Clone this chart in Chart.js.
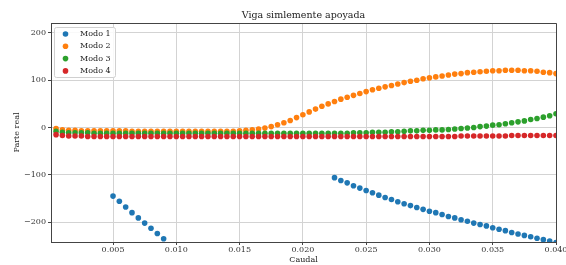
<!DOCTYPE html>
<html>
<head>
<meta charset="utf-8">
<script src="https://cdn.jsdelivr.net/npm/chart.js@4"></script>
<style>
  body { margin: 0; background: #fff; }
</style>
</head>
<body>
<canvas id="chart" width="566" height="265"></canvas>
<script>
// Data
const caudal = [
  0.0005, 0.001, 0.0015, 0.002, 0.0025, 0.003, 0.0035, 0.004, 0.0045, 0.005,
  0.0055, 0.006, 0.0065, 0.007, 0.0075, 0.008, 0.0085, 0.009, 0.0095, 0.010,
  0.0105, 0.011, 0.0115, 0.012, 0.0125, 0.013, 0.0135, 0.014, 0.0145, 0.015,
  0.0155, 0.016, 0.0165, 0.017, 0.0175, 0.018, 0.0185, 0.019, 0.0195, 0.020,
  0.0205, 0.021, 0.0215, 0.022, 0.0225, 0.023, 0.0235, 0.024, 0.0245, 0.025,
  0.0255, 0.026, 0.0265, 0.027, 0.0275, 0.028, 0.0285, 0.029, 0.0295, 0.030,
  0.0305, 0.031, 0.0315, 0.032, 0.0325, 0.033, 0.0335, 0.034, 0.0345, 0.035,
  0.0355, 0.036, 0.0365, 0.037, 0.0375, 0.038, 0.0385, 0.039, 0.0395, 0.040
];

const modo1 = [
  null, null, null, null, null, null, null, null, null, -145,
  -156, -168, -180, -191, -202, -213, -224, -235, null, null,
  null, null, null, null, null, null, null, null, null, null,
  null, null, null, null, null, null, null, null, null, null,
  null, null, null, null, -106, -112, -117, -123, -128, -133,
  -138, -143, -148, -152, -157, -161, -165, -169, -173, -177,
  -180, -184, -188, -191, -195, -198, -202, -205, -208, -212,
  -215, -218, -222, -225, -228, -231, -234, -237, -240, -243
];

const modo2 = [
  -2, -5, -6, -6, -7, -7, -7, -7, -7, -7,
  -7, -7, -8, -8, -8, -8, -8, -8, -8, -8,
  -8, -8, -8, -8, -8, -8, -8, -8, -8, -7,
  -6, -5, -3, -1, 2, 6, 10, 15, 21, 27,
  33, 39, 45, 50, 55, 60, 64, 68, 72, 76,
  80, 83, 86, 89, 92, 95, 98, 100, 103, 105,
  107, 109, 111, 113, 114, 116, 117, 118, 119, 120,
  120, 121, 121, 121, 120, 120, 119, 117, 116, 114
];

const modo3 = [
  -8, -10, -11, -11, -11, -11, -12, -12, -12, -12,
  -12, -12, -12, -12, -12, -12, -12, -12, -12, -12,
  -12, -12, -12, -12, -12, -12, -12, -12, -12, -12,
  -12, -12, -12, -12, -12, -12, -12, -12, -12, -12,
  -12, -12, -12, -12, -12, -12, -12, -11, -11, -11,
  -10, -10, -10, -9, -9, -8, -7, -7, -6, -6,
  -5, -5, -4, -3, -2, -1, 0, 2, 3, 5,
  6, 8, 10, 12, 14, 17, 19, 22, 25, 29
];

const modo4 = [
  -15, -17, -18, -18, -18, -19, -19, -19, -19, -19,
  -19, -19, -19, -19, -19, -19, -19, -19, -19, -19,
  -19, -19, -19, -19, -19, -19, -19, -19, -19, -19,
  -19, -19, -19, -19, -19, -19, -19, -19, -19, -19,
  -19, -19, -19, -19, -19, -19, -19, -19, -19, -19,
  -19, -19, -19, -19, -19, -19, -19, -19, -19, -19,
  -19, -19, -19, -19, -18, -18, -18, -18, -18, -18,
  -18, -18, -17, -17, -17, -17, -17, -17, -17, -17
];

const seriesNames = ['Modo 1', 'Modo 2', 'Modo 3', 'Modo 4'];
const seriesColors = ['#1f77b4', '#ff7f0e', '#2ca02c', '#d62728'];
const xTicks = [0.005, 0.010, 0.015, 0.020, 0.025, 0.030, 0.035, 0.040];
const yTicks = [-200, -100, 0, 100, 200];
const chartTitle = 'Viga simlemente apoyada';

const FONT = 'DejaVu Serif';

function toPoints(values) {
  const pts = [];
  values.forEach((v, i) => {
    if (v !== null) pts.push({ x: caudal[i], y: v });
  });
  return pts;
}

// Frame round the plot area (top and right spines) + title centred over it
const framePlugin = {
  id: 'frame',
  afterDatasetsDraw(chart) {
    const { ctx, chartArea: a } = chart;
    ctx.save();
    ctx.strokeStyle = '#444';
    ctx.lineWidth = 1;
    ctx.beginPath();
    ctx.moveTo(a.left, a.top + 0.5);
    ctx.lineTo(a.right + 0.5, a.top + 0.5);
    ctx.lineTo(a.right + 0.5, a.bottom);
    ctx.stroke();

    ctx.fillStyle = '#222';
    ctx.font = '9.5px "' + FONT + '"';
    ctx.textAlign = 'center';
    ctx.textBaseline = 'middle';
    ctx.fillText(chartTitle, (a.left + a.right) / 2, 15.5);
    ctx.restore();
  }
};

// Legend inside the upper left corner
const innerLegend = {
  id: 'innerLegend',
  afterDraw(chart) {
    const { ctx, chartArea: a } = chart;
    const x = a.left + 3, y = a.top + 4, w = 61, h = 50;
    ctx.save();
    ctx.fillStyle = 'rgba(255,255,255,0.85)';
    ctx.strokeStyle = '#d0d0d0';
    ctx.lineWidth = 1;
    ctx.beginPath();
    ctx.roundRect(x + 0.5, y + 0.5, w, h, 2);
    ctx.fill();
    ctx.stroke();
    ctx.font = '8px "' + FONT + '"';
    ctx.textBaseline = 'middle';
    seriesNames.forEach((name, i) => {
      const cy = y + 7 + i * 12.3;
      ctx.fillStyle = seriesColors[i];
      ctx.beginPath();
      ctx.arc(x + 11.5, cy, 2.8, 0, Math.PI * 2);
      ctx.fill();
      ctx.fillStyle = '#222';
      ctx.fillText(name, x + 26, cy);
    });
    ctx.restore();
  }
};

const ctx = document.getElementById('chart').getContext('2d');
new Chart(ctx, {
  type: 'scatter',
  data: {
    datasets: [modo1, modo2, modo3, modo4].map((vals, i) => ({
      label: seriesNames[i],
      data: toPoints(vals),
      backgroundColor: seriesColors[i],
      borderWidth: 0,
      pointRadius: 2.8,
      pointHoverRadius: 2.8,
      order: 3 - i
    }))
  },
  options: {
    responsive: false,
    animation: false,
    layout: { padding: { top: 23, right: 10, left: 0, bottom: 0 } },
    plugins: {
      legend: { display: false },
      tooltip: { enabled: false },
      title: { display: false }
    },
    scales: {
      x: {
        type: 'linear',
        min: 0.0001,
        max: 0.040,
        afterBuildTicks: scale => { scale.ticks = xTicks.map(v => ({ value: v })); },
        afterFit: scale => {
          scale.height = 23;
          scale.paddingLeft = 0;
          scale.paddingRight = 0;
        },
        ticks: {
          color: '#333',
          font: { family: FONT, size: 8 },
          padding: 0,
          maxRotation: 0,
          callback: v => v.toFixed(3)
        },
        grid: { color: '#d3d3d3', tickColor: '#444', tickLength: 3 },
        border: { color: '#444', width: 1 },
        title: {
          display: true,
          text: 'Caudal',
          color: '#222',
          font: { family: FONT, size: 8 },
          padding: { top: 0, bottom: 0 }
        }
      },
      y: {
        min: -242,
        max: 221,
        afterBuildTicks: scale => { scale.ticks = yTicks.map(v => ({ value: v })); },
        afterFit: scale => {
          scale.width = 51;
          scale.paddingTop = 0;
          scale.paddingBottom = 0;
        },
        ticks: {
          color: '#333',
          font: { family: FONT, size: 8 },
          padding: 2,
          callback: v => String(v).replace('-', '\u2212')
        },
        grid: { color: '#d3d3d3', tickColor: '#444', tickLength: 3 },
        border: { color: '#444', width: 1 },
        title: {
          display: true,
          text: 'Parte real',
          color: '#222',
          font: { family: FONT, size: 8 },
          padding: { top: 12, bottom: 0 }
        }
      }
    }
  },
  plugins: [framePlugin, innerLegend]
});
</script>
</body>
</html>
